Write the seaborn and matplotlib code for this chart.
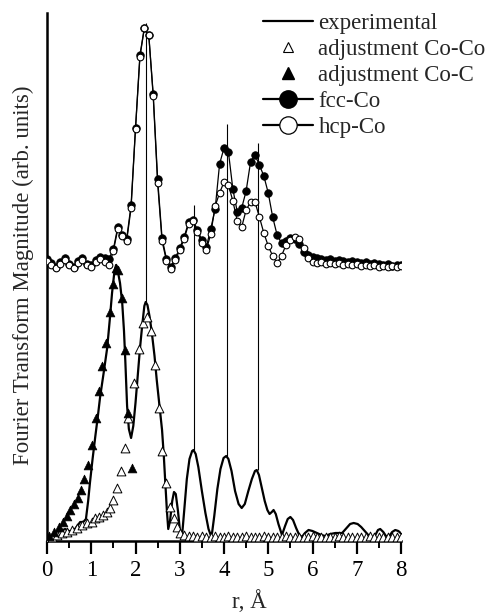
import numpy as np
import pandas as pd
import matplotlib
matplotlib.use("Agg")
import matplotlib.pyplot as plt
from matplotlib.lines import Line2D
import seaborn as sns

# ---------------- data ----------------
grid_r = [0.0, 0.1, 0.2, 0.3, 0.4, 0.5, 0.6, 0.7, 0.8, 0.9,
          1.0, 1.1, 1.2, 1.3, 1.4, 1.5, 1.6, 1.7, 1.8, 1.9,
          2.0, 2.1, 2.2, 2.3, 2.4, 2.5, 2.6, 2.7, 2.8, 2.9,
          3.0, 3.1, 3.2, 3.3, 3.4, 3.5, 3.6, 3.7, 3.8, 3.9,
          4.0, 4.1, 4.2, 4.3, 4.4, 4.5, 4.6, 4.7, 4.8, 4.9,
          5.0, 5.1, 5.2, 5.3, 5.4, 5.5, 5.6, 5.7, 5.8, 5.9,
          6.0, 6.1, 6.2, 6.3, 6.4, 6.5, 6.6, 6.7, 6.8, 6.9,
          7.0, 7.1, 7.2, 7.3, 7.4, 7.5, 7.6, 7.7, 7.8, 7.9, 8.0]

fcc_y = [282, 278, 274, 279, 283, 277, 274, 280, 283, 277,
         276, 281, 284, 283, 282, 292, 314, 306, 302, 336,
         413, 486, 513, 506, 447, 362, 303, 282, 274, 283,
         293, 304, 319, 321, 311, 301, 294, 312, 332, 377,
         393, 389, 352, 329, 333, 350, 379, 386, 376, 365,
         348, 324, 306, 298, 300, 303, 302, 297, 289, 286,
         284, 283, 282, 281, 282, 280, 281, 280, 279, 280,
         279, 278, 279, 277, 278, 277, 276, 277, 275, 276, 276]

hcp_y = [280, 276, 273, 277, 281, 276, 273, 278, 281, 276,
         274, 279, 282, 279, 276, 290, 312, 305, 300, 333,
         412, 484, 513, 506, 445, 358, 300, 280, 272, 281,
         291, 302, 317, 320, 309, 298, 291, 307, 335, 348,
         359, 356, 340, 320, 314, 331, 339, 339, 324, 308,
         295, 285, 278, 285, 296, 301, 304, 302, 293, 283,
         279, 278, 279, 277, 278, 277, 278, 276, 277, 276,
         277, 275, 276, 275, 276, 274, 275, 274, 275, 274, 275]

exp_r = [0.00, 0.10, 0.20, 0.30, 0.41, 0.50, 0.57, 0.65, 0.75, 0.82,
         0.88, 0.93, 0.97, 1.03, 1.09, 1.15, 1.20, 1.28, 1.36, 1.42,
         1.47, 1.52, 1.56, 1.60, 1.65, 1.70, 1.74, 1.77, 1.81, 1.85,
         1.90, 1.95, 2.00, 2.05, 2.10, 2.15, 2.20, 2.23, 2.27, 2.32,
         2.37, 2.43, 2.48, 2.54, 2.60, 2.64, 2.67, 2.71, 2.74, 2.78,
         2.83, 2.87, 2.91, 2.96, 3.01, 3.05, 3.10, 3.16, 3.22, 3.28,
         3.31, 3.36, 3.42, 3.50, 3.58, 3.65, 3.70, 3.73, 3.78, 3.85,
         3.92, 3.99, 4.05, 4.10, 4.17, 4.25, 4.33, 4.40, 4.47, 4.55,
         4.63, 4.70, 4.74, 4.79, 4.85, 4.92, 4.98, 5.03, 5.08, 5.12,
         5.17, 5.23, 5.31, 5.38, 5.44, 5.50, 5.56, 5.63, 5.70, 5.76,
         5.83, 5.91, 6.00, 6.10, 6.20, 6.29, 6.40, 6.52, 6.67, 6.77,
         6.85, 6.93, 7.02, 7.10, 7.20, 7.28, 7.35, 7.42, 7.48, 7.53,
         7.60, 7.66, 7.72, 7.80, 7.87, 7.94, 7.99]
exp_y = [0, 5, 8, 10, 12, 10, 9, 13, 19, 19,
         22, 40, 58, 82, 104, 125, 144, 168, 193, 222,
         248, 268, 276, 270, 258, 238, 210, 180, 135, 112,
         103, 115, 138, 165, 192, 215, 235, 239, 236, 224,
         208, 185, 161, 136, 111, 85, 61, 30, 12, 20,
         40, 49, 47, 30, 8, 4, 30, 62, 82, 90,
         91, 87, 74, 50, 28, 12, 6, 8, 25, 52,
         72, 83, 85, 82, 70, 50, 37, 33, 37, 50,
         62, 70, 71, 66, 54, 40, 31, 27, 29, 31,
         27, 17, 6, 15, 22, 24, 21, 13, 6, 4,
         8, 11, 10, 8, 6, 5, 7, 8, 8, 13,
         17, 18, 17, 14, 9, 5, 2, 6, 11, 12,
         9, 5, 4, 9, 11, 10, 8]

coco_r = [0.03, 0.12, 0.22, 0.33, 0.45, 0.56, 0.67, 0.78, 0.90, 1.01,
          1.09, 1.18, 1.27, 1.35, 1.43, 1.50, 1.58, 1.67, 1.77, 1.84,
          1.96, 2.07, 2.17, 2.25, 2.34, 2.44, 2.52, 2.59, 2.69, 2.78,
          2.87, 2.93, 3.01, 3.10, 3.20, 3.30, 3.40, 3.50, 3.60, 3.70,
          3.80, 3.90, 4.00, 4.10, 4.20, 4.30, 4.40, 4.50, 4.60, 4.70,
          4.80, 4.90, 5.00, 5.10, 5.20, 5.30, 5.40, 5.50, 5.60, 5.70,
          5.80, 5.90, 6.00, 6.10, 6.20, 6.30, 6.40, 6.50, 6.60, 6.70,
          6.80, 6.90, 7.00, 7.10, 7.20, 7.30, 7.40, 7.50, 7.60, 7.70,
          7.80, 7.90, 8.00]
coco_y = [2, 4, 6, 8, 9, 11, 13, 16, 18, 19,
          23, 24, 26, 29, 33, 41, 53, 70, 93, 123,
          158, 192, 218, 224, 210, 176, 133, 90, 58, 34,
          23, 14, 8, 6, 5, 5, 4, 5, 4, 4,
          5, 4, 4, 5, 4, 4, 4, 5, 4, 4,
          4, 5, 4, 4, 4, 4, 5, 4, 4, 4,
          4, 4, 5, 4, 4, 4, 4, 4, 5, 4,
          4, 4, 4, 4, 4, 5, 4, 4, 4, 4,
          4, 4, 4]

coc_r = [0.05, 0.16, 0.27, 0.37, 0.45, 0.53, 0.61, 0.69, 0.77, 0.84,
         0.92, 1.01, 1.10, 1.18, 1.25, 1.33, 1.42, 1.49, 1.56, 1.61,
         1.69, 1.76, 1.84, 1.92]
coc_y = [5, 9, 14, 19, 25, 31, 37, 43, 51, 62,
         76, 96, 123, 150, 175, 198, 229, 257, 273, 271,
         243, 191, 128, 73]

# thin vertical guide lines between experimental and model peaks
guide_r = [2.24, 3.32, 4.06, 4.77]
guide_lo = [239, 91, 84, 71]
guide_hi = [518, 336, 417, 398]

x_ticks = [0, 1, 2, 3, 4, 5, 6, 7, 8]
x_label = "r, Å"
y_label = "Fourier Transform Magnitude (arb. units)"
legend_labels = ["experimental", "adjustment Co-Co", "adjustment Co-C",
                 "fcc-Co", "hcp-Co"]

# ---------------- style ----------------
sns.set_theme(style="ticks")
plt.rcParams["font.family"] = ["Liberation Serif", "DejaVu Serif"]
FS = 16.5

fig = plt.figure(figsize=(4.88, 6.13), dpi=100)
ax = fig.add_axes([47 / 488, 72 / 613, (401 - 47) / 488, 528 / 613])

df_fcc = pd.DataFrame({"r": grid_r, "y": fcc_y})
df_hcp = pd.DataFrame({"r": grid_r, "y": hcp_y})
df_exp = pd.DataFrame({"r": exp_r, "y": exp_y})
df_coco = pd.DataFrame({"r": coco_r, "y": coco_y})
df_coc = pd.DataFrame({"r": coc_r, "y": coc_y})

ax.vlines(guide_r, guide_lo, guide_hi, colors="black", linewidth=0.8, zorder=2)

sns.lineplot(data=df_exp, x="r", y="y", ax=ax, color="black", linewidth=1.6,
             estimator=None, zorder=3)
sns.lineplot(data=df_fcc, x="r", y="y", ax=ax, color="black", linewidth=0.9,
             marker="o", markersize=5.4, markerfacecolor="black",
             markeredgecolor="black", markeredgewidth=0.6, estimator=None, zorder=4)
sns.lineplot(data=df_hcp, x="r", y="y", ax=ax, color="black", linewidth=0.9,
             marker="o", markersize=4.8, markerfacecolor="white",
             markeredgecolor="black", markeredgewidth=0.8, estimator=None, zorder=5)
sns.scatterplot(data=df_coco, x="r", y="y", ax=ax, marker="^", s=40,
                facecolor="white", edgecolor="black", linewidth=0.7, zorder=6)
sns.scatterplot(data=df_coc, x="r", y="y", ax=ax, marker="^", s=40,
                color="black", edgecolor="black", linewidth=0.5, zorder=7)

ax.set_xlim(0, 8.0)
ax.set_ylim(0, 528)
ax.set_xticks(x_ticks)
ax.set_xticklabels([str(t) for t in x_ticks], fontsize=FS)
ax.set_xticks([0.5, 1.5, 2.5, 3.5, 4.5, 5.5, 6.5, 7.5], minor=True)
ax.set_yticks([])
ax.tick_params(axis="x", which="major", direction="out", length=9, width=1.6,
               pad=5, colors="black")
ax.tick_params(axis="x", which="minor", direction="out", length=5, width=1.4,
               colors="black")
for side in ["top", "right"]:
    ax.spines[side].set_visible(False)
for side in ["left", "bottom"]:
    ax.spines[side].set_linewidth(1.8)
    ax.spines[side].set_color("black")

ax.set_xlabel(x_label, fontsize=FS)
ax.xaxis.set_label_coords(0.573, -0.093)
ax.set_ylabel(y_label, fontsize=FS)
ax.yaxis.set_label_coords(-0.036, 0.504)

handles = [
    Line2D([], [], color="black", linewidth=1.6),
    Line2D([], [], linestyle="none", marker="^", markersize=7,
           markerfacecolor="white", markeredgecolor="black", markeredgewidth=0.8),
    Line2D([], [], linestyle="none", marker="^", markersize=8,
           markerfacecolor="black", markeredgecolor="black"),
    Line2D([], [], color="black", linewidth=1.6, marker="o", markersize=12.5,
           markerfacecolor="black", markeredgecolor="black"),
    Line2D([], [], color="black", linewidth=1.6, marker="o", markersize=12.5,
           markerfacecolor="white", markeredgecolor="black", markeredgewidth=0.9),
]
ax.legend(handles, legend_labels, loc="upper left",
          bbox_to_anchor=(263 / 488, 1 - 13 / 613), bbox_transform=fig.transFigure,
          frameon=False, fontsize=FS, handlelength=2.2, handletextpad=0.22,
          labelspacing=0.22, borderpad=0, borderaxespad=0)

fig.savefig("out.png", dpi=100)
